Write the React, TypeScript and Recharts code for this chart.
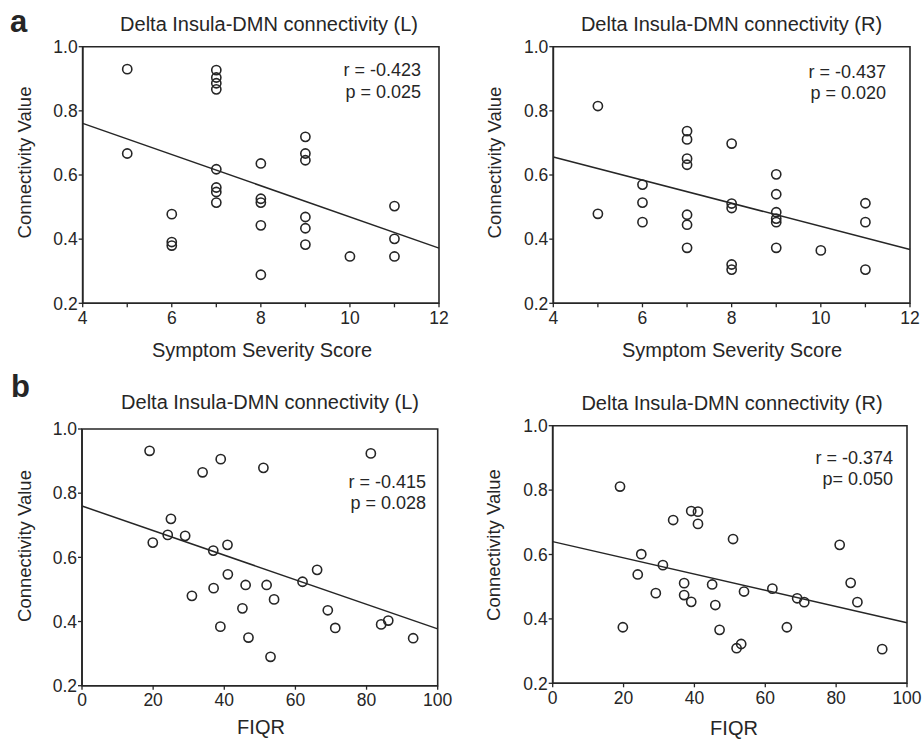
import {
  ReferenceArea,
  ReferenceLine,
  Scatter,
  ScatterChart,
  XAxis,
  YAxis,
} from 'recharts'

// ------------------------------------------------------------
// Data (panel a: symptom severity, panel b: FIQR)
// ------------------------------------------------------------
const aLeftX = [5, 5, 6, 6, 6, 7, 7, 7, 7, 7, 7, 7, 7, 8, 8, 8, 8, 8, 9, 9, 9, 9, 9, 9, 10, 11, 11, 11]
const aLeftY = [
  0.93, 0.667, 0.478, 0.391, 0.38, 0.927, 0.904, 0.886, 0.867, 0.618, 0.561, 0.547, 0.514,
  0.636, 0.526, 0.514, 0.443, 0.289, 0.719, 0.667, 0.646, 0.469, 0.434, 0.383, 0.346,
  0.503, 0.401, 0.346,
]

const aRightX = [5, 5, 6, 6, 6, 7, 7, 7, 7, 7, 7, 7, 8, 8, 8, 8, 8, 9, 9, 9, 9, 9, 9, 10, 11, 11, 11]
const aRightY = [
  0.815, 0.479, 0.57, 0.514, 0.453, 0.737, 0.711, 0.651, 0.632, 0.476, 0.445, 0.373,
  0.698, 0.511, 0.497, 0.321, 0.305, 0.602, 0.54, 0.484, 0.464, 0.453, 0.373, 0.365,
  0.512, 0.453, 0.305,
]

const bLeftX = [
  19, 19.9, 24.1, 25, 29, 33.9, 39, 36.9, 40.9, 51, 81.2, 30.9, 37, 41, 46, 51.9, 54,
  45.1, 38.9, 46.8, 53, 62, 66.1, 69.1, 71.2, 84.1, 86.1, 93.1,
]
const bLeftY = [
  0.932, 0.646, 0.67, 0.72, 0.667, 0.865, 0.906, 0.621, 0.639, 0.879, 0.924, 0.48, 0.504,
  0.547, 0.514, 0.514, 0.469, 0.441, 0.384, 0.35, 0.29, 0.524, 0.561, 0.435, 0.38, 0.391,
  0.403, 0.348,
]

const bRightX = [
  19, 34, 39.1, 41, 41, 50.9, 81, 25, 31.1, 24, 29.1, 19.8, 37.1, 37.1, 39.1, 45, 45.9,
  47.1, 53.2, 51.9, 54, 62, 66.1, 69, 71, 84.1, 86, 93,
]
const bRightY = [
  0.811, 0.707, 0.735, 0.733, 0.695, 0.648, 0.63, 0.601, 0.567, 0.538, 0.48, 0.374, 0.511,
  0.474, 0.453, 0.507, 0.443, 0.366, 0.322, 0.309, 0.485, 0.494, 0.374, 0.464, 0.452,
  0.512, 0.452, 0.306,
]

// regression line values at the ends of the x domain
const aLeftFit = [0.761, 0.372]
const aRightFit = [0.656, 0.368]
const bLeftFit = [0.76, 0.377]
const bRightFit = [0.64, 0.388]

const severityTicks = [4, 5, 6, 7, 8, 9, 10, 11, 12]
const fiqrTicks = [0, 20, 40, 60, 80, 100]
const valueTicks = [0.2, 0.4, 0.6, 0.8, 1.0]

const INK = '#262626'
const FONT = '"Liberation Sans", Arial, Helvetica, sans-serif'

const zip = (xs: number[], ys: number[]) => xs.map((x, i) => ({ x, y: ys[i] }))

function OpenCircle(props: { cx?: number; cy?: number }) {
  if (props.cx == null || props.cy == null) return <g />
  return (
    <circle
      cx={props.cx}
      cy={props.cy}
      r={4.6}
      fill="none"
      stroke={INK}
      strokeWidth={1.6}
    />
  )
}

interface PanelProps {
  left: number
  top: number
  width: number
  height: number
  margin: { top: number; right: number; bottom: number; left: number }
  points: { x: number; y: number }[]
  xDomain: [number, number]
  xTicks: number[]
  showTickLabel: (v: number) => boolean
  fit: number[]
}

function Panel({
  left,
  top,
  width,
  height,
  margin,
  points,
  xDomain,
  xTicks,
  showTickLabel,
  fit,
}: PanelProps) {
  const tick = { fontSize: 17.5, fill: INK, fontFamily: FONT }
  return (
    <div style={{ position: 'absolute', left, top, width, height }}>
      <ScatterChart width={width} height={height} margin={margin}>
        <XAxis
          type="number"
          dataKey="x"
          domain={xDomain}
          ticks={xTicks}
          allowDataOverflow
          height={30}
          tickSize={4}
          tickMargin={4}
          tick={tick}
          tickFormatter={(v: number) => (showTickLabel(v) ? String(v) : '')}
          axisLine={{ stroke: INK, strokeWidth: 1.6 }}
          tickLine={{ stroke: INK, strokeWidth: 1.3 }}
          interval={0}
        />
        <YAxis
          type="number"
          dataKey="y"
          domain={[0.2, 1.0]}
          ticks={valueTicks}
          allowDataOverflow
          width={60}
          tickSize={4}
          tickMargin={1}
          tick={tick}
          tickFormatter={(v: number) => v.toFixed(1)}
          axisLine={{ stroke: INK, strokeWidth: 1.6 }}
          tickLine={{ stroke: INK, strokeWidth: 1.3 }}
          interval={0}
        />
        <ReferenceArea
          x1={xDomain[0]}
          x2={xDomain[1]}
          y1={0.2}
          y2={1.0}
          fill="none"
          stroke={INK}
          strokeWidth={1.6}
          ifOverflow="visible"
        />
        <ReferenceLine
          segment={[
            { x: xDomain[0], y: fit[0] },
            { x: xDomain[1], y: fit[1] },
          ]}
          stroke={INK}
          strokeWidth={1.5}
        />
        <Scatter data={points} shape={OpenCircle} isAnimationActive={false} />
      </ScatterChart>
    </div>
  )
}

const txt = { fontFamily: FONT, fill: INK }

export default function App() {
  const even = (v: number) => v % 2 === 0
  const all = () => true
  return (
    <div
      style={{
        position: 'absolute',
        left: 0,
        top: 0,
        width: 922,
        height: 739,
        background: '#fff',
        overflow: 'hidden',
      }}
    >
      <Panel
        left={0}
        top={0}
        width={460}
        height={370}
        margin={{ top: 46.7, right: 21, bottom: 36.7, left: 22.7 }}
        points={zip(aLeftX, aLeftY)}
        xDomain={[4, 12]}
        xTicks={severityTicks}
        showTickLabel={even}
        fit={aLeftFit}
      />
      <Panel
        left={460}
        top={0}
        width={462}
        height={370}
        margin={{ top: 46.7, right: 12, bottom: 36.7, left: 33.3 }}
        points={zip(aRightX, aRightY)}
        xDomain={[4, 12]}
        xTicks={severityTicks}
        showTickLabel={even}
        fit={aRightFit}
      />
      <Panel
        left={0}
        top={370}
        width={460}
        height={369}
        margin={{ top: 59, right: 22.3, bottom: 23.3, left: 22 }}
        points={zip(bLeftX, bLeftY)}
        xDomain={[0, 100]}
        xTicks={fiqrTicks}
        showTickLabel={all}
        fit={bLeftFit}
      />
      <Panel
        left={460}
        top={370}
        width={462}
        height={369}
        margin={{ top: 55.7, right: 15, bottom: 25.7, left: 32.7 }}
        points={zip(bRightX, bRightY)}
        xDomain={[0, 100]}
        xTicks={fiqrTicks}
        showTickLabel={all}
        fit={bRightFit}
      />

      <svg
        width={922}
        height={739}
        style={{ position: 'absolute', left: 0, top: 0, pointerEvents: 'none' }}
      >
        <text x={10} y={32} fontSize={31} fontWeight="bold" {...txt}>a</text>
        <text x={11} y={397} fontSize={31} fontWeight="bold" {...txt}>b</text>

        <g fontSize={20} textAnchor="middle" dominantBaseline="central" {...txt}>
          <text x={269} y={23.5}>Delta Insula-DMN connectivity (L)</text>
          <text x={731.5} y={23.5}>Delta Insula-DMN connectivity (R)</text>
          <text x={270} y={402}>Delta Insula-DMN connectivity (L)</text>
          <text x={732} y={403}>Delta Insula-DMN connectivity (R)</text>

          <text x={262} y={350}>Symptom Severity Score</text>
          <text x={732} y={350}>Symptom Severity Score</text>
          <text x={261} y={727}>FIQR</text>
          <text x={734} y={728}>FIQR</text>
        </g>

        <g fontSize={18.5} textAnchor="middle" dominantBaseline="central" {...txt}>
          <text x={24} y={162.5} transform="rotate(-90 24 162.5)">Connectivity Value</text>
          <text x={494} y={162.5} transform="rotate(-90 494 162.5)">Connectivity Value</text>
          <text x={24} y={546} transform="rotate(-90 24 546)">Connectivity Value</text>
          <text x={493} y={545} transform="rotate(-90 493 545)">Connectivity Value</text>
        </g>

        <g fontSize={18} textAnchor="end" dominantBaseline="central" {...txt}>
          <text x={421} y={70}>r = -0.423</text>
          <text x={421} y={91.7}>p = 0.025</text>
          <text x={886} y={72}>r = -0.437</text>
          <text x={886} y={93}>p = 0.020</text>
          <text x={426} y={482}>r = -0.415</text>
          <text x={426} y={503}>p = 0.028</text>
          <text x={893} y={458}>r = -0.374</text>
          <text x={893} y={479}>p= 0.050</text>
        </g>
      </svg>
    </div>
  )
}
